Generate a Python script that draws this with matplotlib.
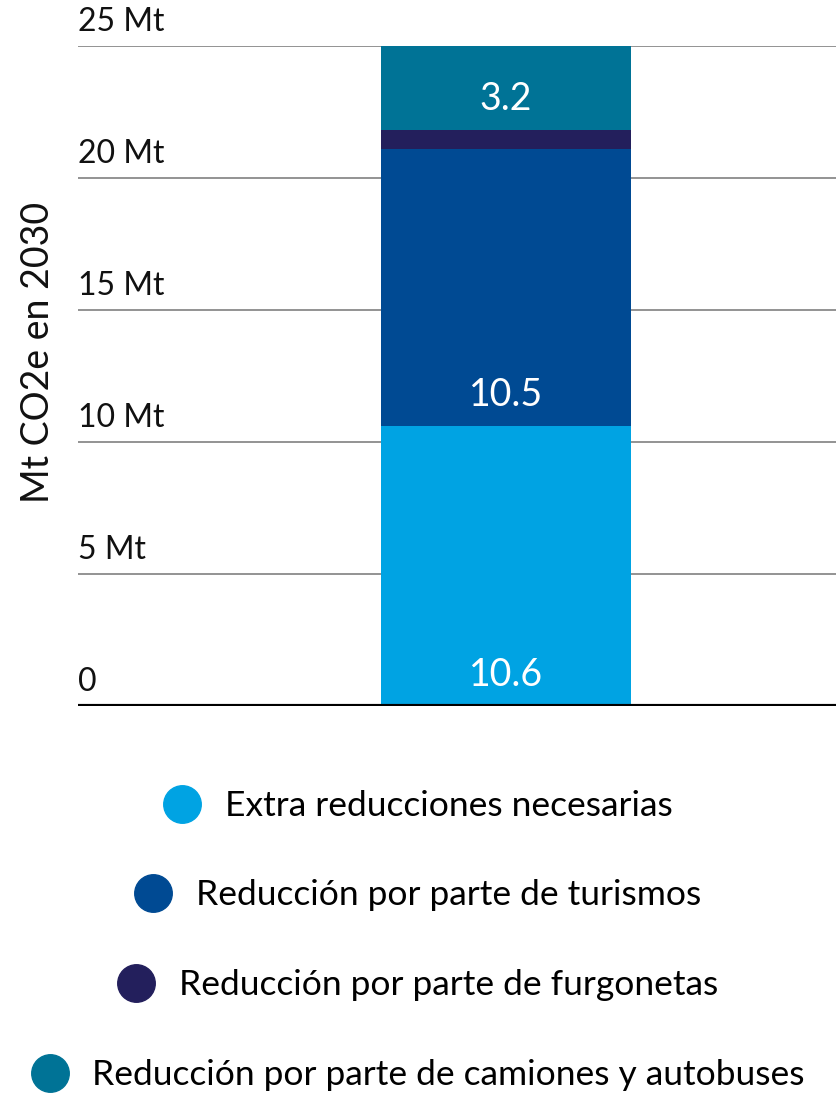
import matplotlib
matplotlib.use("Agg")
import matplotlib.pyplot as plt
from matplotlib.lines import Line2D

plt.rcParams['font.family'] = ['Lato', 'DejaVu Sans']

series = ["Extra reducciones necesarias",
          "Reducción por parte de turismos",
          "Reducción por parte de furgonetas",
          "Reducción por parte de camiones y autobuses"]
values = [10.6, 10.5, 0.7, 3.2]
labels = ["10.6", "10.5", "", "3.2"]
colors = ["#00A3E3", "#004A93", "#231F5C", "#007396"]
yticks = [0, 5, 10, 15, 20, 25]
ytick_labels = ["0", "5 Mt", "10 Mt", "15 Mt", "20 Mt", "25 Mt"]

W, H = 837, 1093
fig = plt.figure(figsize=(W / 100, H / 100), dpi=100)
ax_left, ax_right, ax_top, ax_bottom = 78, 837, 46, 706
ax = fig.add_axes([ax_left / W, 1 - ax_bottom / H, (ax_right - ax_left) / W, (ax_bottom - ax_top) / H])

bar_center_px, bar_w_px = 506 - ax_left, 250
axw = ax_right - ax_left
ax.set_xlim(-bar_center_px / bar_w_px, (axw - bar_center_px) / bar_w_px)
ax.set_ylim(0, 25)

for y in yticks[1:]:
    ax.axhline(y, color="#8a8a8a", lw=1.3, zorder=0)
ax.axhline(0, color="black", lw=3, zorder=3)

bottom = 0
for v, lab, c in zip(values, labels, colors):
    ax.bar(0, v, width=1, bottom=bottom, color=c, zorder=2)
    if lab:
        ax.text(0, bottom + 0.5, lab, ha="center", va="bottom", color="white", fontsize=27, zorder=4)
    bottom += v

for y, t in zip(yticks, ytick_labels):
    ax.text(ax.get_xlim()[0], y + 0.35, t, ha="left", va="bottom", fontsize=23, color="#111111")

for s in ax.spines.values():
    s.set_visible(False)
ax.set_xticks([])
ax.set_yticks([])

fig.text(38 / W, 1 - 352 / H, "Mt CO2e en 2030", rotation=90, ha="center", va="center", fontsize=27, color="#111111")

row_y = [806, 895, 985, 1075]
for name, c, ry in zip(series, colors, row_y):
    h = Line2D([0], [0], marker="o", color="none", markerfacecolor=c, markeredgecolor=c, markersize=27)
    fig.legend([h], [name], loc="center", bbox_to_anchor=(0.5, 1 - ry / H), frameon=False,
               fontsize=25.5, handletextpad=0.7, handlelength=1.0, borderpad=0)

fig.savefig("out.png", dpi=100)
